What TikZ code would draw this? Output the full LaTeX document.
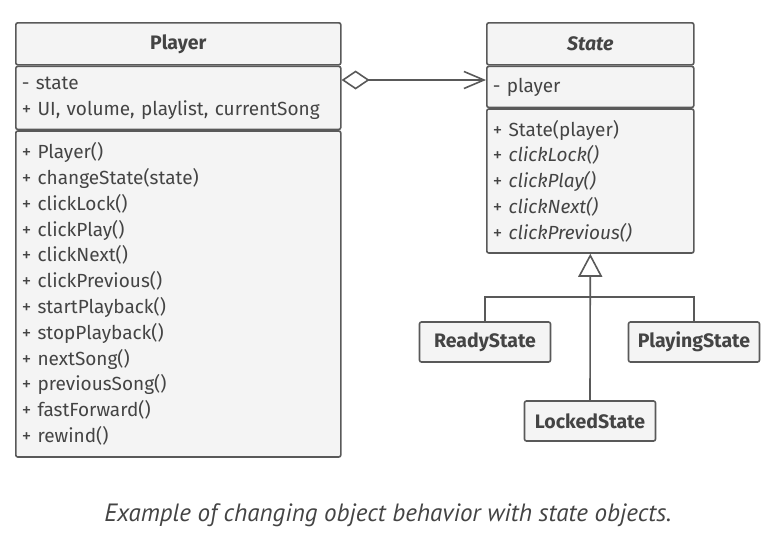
\documentclass[tikz,border=0pt]{standalone}
\usepackage{fontspec}
\setmainfont{Fira Sans}
\newfontfamily\captionfont{PT Sans}
\usetikzlibrary{positioning,arrows.meta}
\definecolor{linec}{HTML}{595959}
\definecolor{boxfill}{HTML}{F4F4F4}
\definecolor{textc}{HTML}{444444}

\begin{document}
\begin{tikzpicture}[
        x=1pt, y=-1pt,
        every node/.style = {text=textc, font=\fontsize{19}{25.8}\selectfont},
        part/.style  = {draw=linec, fill=boxfill, line width=1.6pt, rounded corners=2pt, inner sep=0pt},
        head/.style  = {part, minimum height=42pt, font=\fontsize{19.5}{22}\selectfont\bfseries},
        items/.style = {part, align=left, inner xsep=6pt},
        leaf/.style  = {part, minimum width=131pt, minimum height=40pt, font=\fontsize{19.5}{22}\selectfont\bfseries},
        link/.style  = {draw=linec, line width=1.6pt},
        agg/.style   = {link, {Diamond[open, length=28pt, width=19pt]}-{Straight Barb[length=20pt, width=17pt]}},
        gen/.style   = {link, -{Triangle[open, length=23pt, width=24pt]}}
    ]
        \useasboundingbox (0,0) rectangle (777,550);

        % Player
        \node[head, minimum width=325pt, anchor=north west] (player) at (15,22) {Player};
        \node[items, minimum height=63pt, text width=313pt, below=0pt of player] (playerattr)
            {- state\\+ UI, volume, playlist, currentSong};
        \node[items, minimum height=326pt, text width=313pt, below=0pt of playerattr] (playermeth)
            {+ Player()\\+ changeState(state)\\+ clickLock()\\+ clickPlay()\\+ clickNext()\\
             + clickPrevious()\\+ startPlayback()\\+ stopPlayback()\\+ nextSong()\\
             + previousSong()\\+ fastForward()\\+ rewind()};

        % State
        \node[head, minimum width=207pt, anchor=north west] (state) at (486,22) {\itshape State};
        \node[items, minimum height=41pt, text width=195pt, below=0pt of state] (stateattr) {- player};
        \node[items, minimum height=144pt, text width=195pt, below=0pt of stateattr] (statemeth)
            {+ State(player)\\+ \textit{clickLock()}\\+ \textit{clickPlay()}\\
             + \textit{clickNext()}\\+ \textit{clickPrevious()}};

        % concrete states
        \node[leaf] (ready)   at (485,342) {ReadyState};
        \node[leaf] (playing) at (694,342) {PlayingState};
        \node[leaf] (locked)  at (590,421) {LockedState};
        \coordinate (join) at (590,297);

        \draw[agg] (playerattr.east |- 0,80) -- (stateattr.west |- 0,80);
        \draw[gen] (locked.north) -- (statemeth.south);
        \draw[link] (ready.north) |- (join) -| (playing.north);

        \node[font=\captionfont\itshape\fontsize{25}{28}\selectfont] (caption) at (388,515)
            {Example of changing object behavior with state objects.};
    \end{tikzpicture}
\end{document}
